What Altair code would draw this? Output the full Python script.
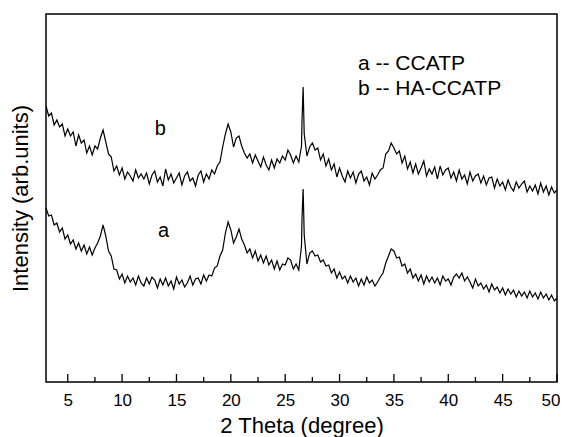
import altair as alt
import pandas as pd

# 2-theta sampling positions (degree)
two_theta = [
    3.0, 3.25, 3.5, 3.75, 4.0, 4.25, 4.5, 4.75, 5.0, 5.25, 5.5, 5.75,
    6.0, 6.25, 6.5, 6.75, 7.0, 7.25, 7.5, 7.75, 8.0, 8.25, 8.5, 8.75,
    9.0, 9.25, 9.5, 9.75, 10.0, 10.25, 10.5, 10.75, 11.0, 11.25, 11.5, 11.75,
    12.0, 12.25, 12.5, 12.75, 13.0, 13.25, 13.5, 13.75, 14.0, 14.25, 14.5, 14.75,
    15.0, 15.25, 15.5, 15.75, 16.0, 16.25, 16.5, 16.75, 17.0, 17.25, 17.5, 17.75,
    18.0, 18.25, 18.5, 18.75, 19.0, 19.25, 19.5, 19.75, 20.0, 20.25, 20.5, 20.75,
    21.0, 21.25, 21.5, 21.75, 22.0, 22.25, 22.5, 22.75, 23.0, 23.25, 23.5, 23.75,
    24.0, 24.25, 24.5, 24.75, 25.0, 25.25, 25.5, 25.75,
    26.0, 26.25, 26.5, 26.55, 26.65, 26.75,
    27.0, 27.25, 27.5, 27.75, 28.0, 28.25, 28.5, 28.75, 29.0, 29.25, 29.5, 29.75,
    30.0, 30.25, 30.5, 30.75, 31.0, 31.25, 31.5, 31.75, 32.0, 32.25, 32.5, 32.75,
    33.0, 33.25, 33.5, 33.75, 34.0, 34.25, 34.5, 34.75, 35.0, 35.25, 35.5, 35.75,
    36.0, 36.25, 36.5, 36.75, 37.0, 37.25, 37.5, 37.75, 38.0, 38.25, 38.5, 38.75,
    39.0, 39.25, 39.5, 39.75, 40.0, 40.25, 40.5, 40.75, 41.0, 41.25, 41.5, 41.75,
    42.0, 42.25, 42.5, 42.75, 43.0, 43.25, 43.5, 43.75, 44.0, 44.25, 44.5, 44.75,
    45.0, 45.25, 45.5, 45.75, 46.0, 46.25, 46.5, 46.75, 47.0, 47.25, 47.5, 47.75,
    48.0, 48.25, 48.5, 48.75, 49.0, 49.25, 49.5, 49.75, 50.0,
]

# curve a -- CCATP (arbitrary units)
intensity_a = [
    174, 166, 167, 157, 159, 150, 154, 143, 147, 138, 142, 133,
    139, 131, 137, 128, 135, 127, 134, 139, 146, 157, 146, 131,
    126, 113, 112, 103, 108, 99, 106, 100, 104, 97, 106, 99,
    96, 104, 98, 105, 102, 94, 103, 97, 104, 96, 101, 93,
    105, 98, 102, 95, 99, 106, 97, 103, 104, 98, 107, 101,
    107, 106, 114, 116, 126, 132, 149, 160, 152, 139, 145, 153,
    143, 137, 129, 133, 124, 131, 121, 127, 119, 126, 117, 122,
    113, 121, 112, 118, 117, 124, 122, 113,
    118, 112, 136, 165, 193, 147,
    118, 129, 131, 126, 127, 120, 122, 116, 117, 109, 113, 104,
    110, 103, 106, 99, 106, 100, 104, 96, 103, 97, 105, 99,
    102, 96, 100, 105, 109, 119, 126, 133, 131, 124, 125, 116,
    118, 109, 113, 104, 108, 101, 107, 98, 106, 100, 105, 99,
    104, 97, 106, 101, 103, 97, 105, 108, 104, 109, 101, 105,
    100, 94, 103, 96, 99, 93, 97, 90, 98, 92, 95, 89,
    94, 87, 93, 88, 92, 85, 91, 86, 90, 84, 91, 85,
    89, 83, 90, 84, 88, 82, 87, 81, 84,
]

# curve b -- HA-CCATP (arbitrary units)
intensity_b = [
    276, 266, 269, 257, 262, 255, 258, 246, 253, 246, 250, 236,
    247, 239, 242, 229, 236, 227, 236, 233, 244, 252, 240, 228,
    225, 211, 216, 207, 214, 203, 210, 206, 201, 212, 204, 208,
    203, 209, 198, 207, 211, 200, 205, 196, 213, 202, 208, 199,
    204, 209, 197, 206, 210, 201, 204, 196, 207, 211, 200, 208,
    203, 212, 208, 216, 220, 235, 248, 258, 250, 235, 244, 246,
    236, 229, 224, 228, 219, 227, 221, 215, 225, 217, 212, 222,
    214, 223, 219, 226, 222, 232, 227, 219,
    226, 220, 236, 262, 295, 248,
    226, 235, 239, 232, 234, 222, 228, 216, 223, 212, 218, 205,
    214, 206, 200, 211, 204, 210, 199, 208, 211, 201, 205, 197,
    209, 203, 207, 212, 214, 228, 231, 239, 234, 228, 231, 219,
    226, 213, 220, 209, 218, 208, 214, 221, 206, 213, 208, 215,
    203, 216, 207, 212, 214, 204, 210, 201, 212, 203, 207, 198,
    210, 201, 206, 208, 199, 206, 197, 204, 205, 194, 203, 196,
    200, 192, 202, 195, 191, 200, 194, 198, 201, 190, 196, 191,
    197, 188, 199, 190, 196, 187, 195, 189, 192,
]

major_ticks = [5, 10, 15, 20, 25, 30, 35, 40, 45, 50]
minor_ticks = [7.5, 12.5, 17.5, 22.5, 27.5, 32.5, 37.5, 42.5, 47.5]

note_text = ["b", "a", "a -- CCATP", "b -- HA-CCATP"]
note_x = [13.0, 13.3, 31.7, 31.7]
note_y = [247, 145, 312, 287]
note_size = [20, 20, 21, 21]

FONT = "Liberation Sans"
n = len(two_theta)
df = pd.DataFrame({
    "two_theta": two_theta * 2,
    "intensity": intensity_a + intensity_b,
    "sample": ["a"] * n + ["b"] * n,
})
notes = pd.DataFrame({"two_theta": note_x, "intensity": note_y,
                      "label": note_text, "size": note_size})
major_df = pd.DataFrame({"two_theta": major_ticks})
minor_df = pd.DataFrame({"two_theta": minor_ticks})

x_scale = alt.Scale(domain=[3, 50], nice=False, zero=False)
y_scale = alt.Scale(domain=[0, 368], nice=False, zero=False)

lines = alt.Chart(df).mark_line(color="black", strokeWidth=1.2).encode(
    x=alt.X("two_theta:Q", scale=x_scale,
            axis=alt.Axis(values=major_ticks, ticks=False, domain=False, grid=False,
                          labelFlush=True, labelFlushOffset=3,
                          labelFontSize=17, labelFont=FONT,
                          labelColor="black", labelPadding=10,
                          title="2 Theta (degree)", titleFont=FONT, titleFontSize=22,
                          titleFontWeight="normal", titleColor="black",
                          titleBaseline="alphabetic", titleY=50)),
    y=alt.Y("intensity:Q", scale=y_scale,
            axis=alt.Axis(labels=False, ticks=False, domain=False, grid=False,
                          title="Intensity (arb.units)", titleFont=FONT, titleFontSize=22,
                          titleFontWeight="normal", titleColor="black", titlePadding=14)),
    detail="sample:N",
)

major = alt.Chart(major_df).mark_rule(color="black", strokeWidth=1.3).encode(
    x=alt.X("two_theta:Q", scale=x_scale),
    y=alt.value(368), y2=alt.value(360),
)
minor = alt.Chart(minor_df).mark_rule(color="black", strokeWidth=1.3).encode(
    x=alt.X("two_theta:Q", scale=x_scale),
    y=alt.value(368), y2=alt.value(363),
)

text = alt.Chart(notes).mark_text(align="left", baseline="alphabetic", font=FONT,
                                  color="black").encode(
    x=alt.X("two_theta:Q", scale=x_scale),
    y=alt.Y("intensity:Q", scale=y_scale),
    text="label:N",
    size=alt.Size("size:Q", scale=None, legend=None),
)

chart = alt.layer(lines, major, minor, text).properties(
    width=511, height=368,
    padding={"left": 38, "top": 6, "right": 3, "bottom": 58},
    autosize=alt.AutoSizeParams(type="none"),
).configure_view(stroke="black", strokeWidth=1.5)

chart.save("out.html", embed_options={"renderer": "svg", "actions": False})
